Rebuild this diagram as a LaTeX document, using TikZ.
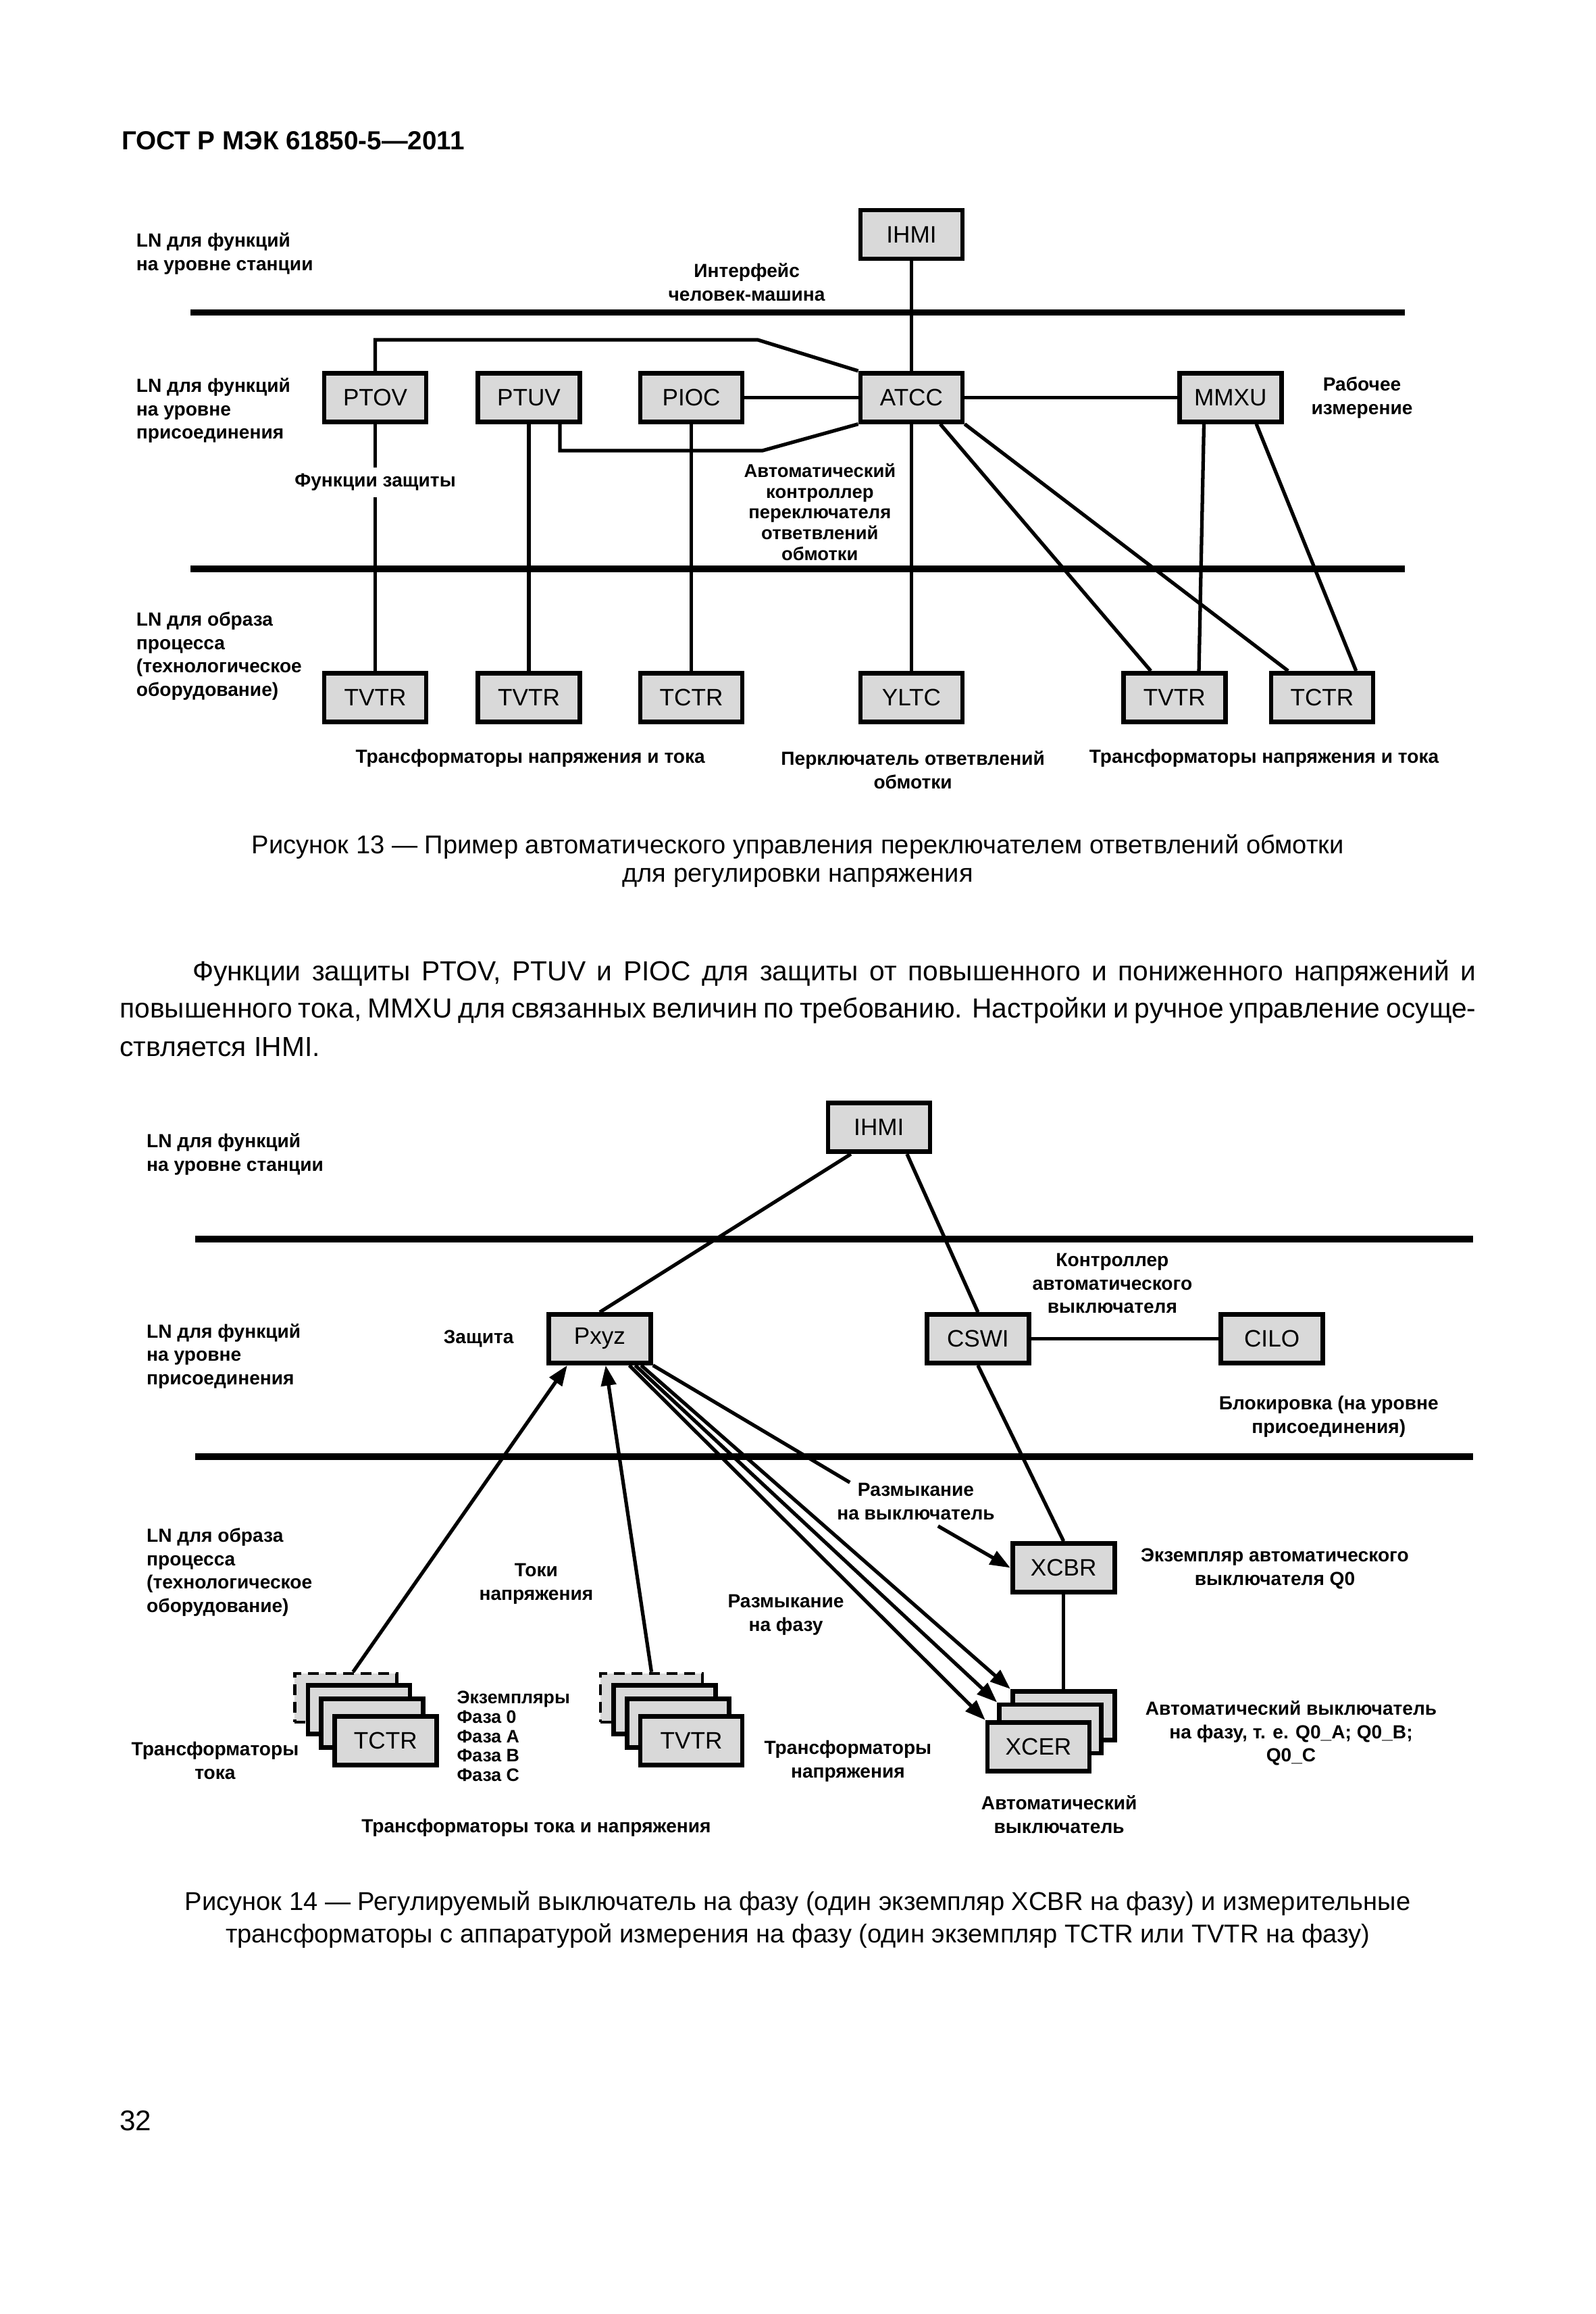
\documentclass[tikz,border=0pt]{standalone}
\usepackage{fontspec}
\setmainfont{Liberation Sans}
\usetikzlibrary{arrows.meta, calc}

\definecolor{boxgray}{gray}{0.85}

\begin{document}
\begin{tikzpicture}[x=0.2187mm, y=-0.2187mm,
    box/.style={draw, line width=1.9pt, fill=boxgray, minimum width=15.1mm,
        minimum height=7.2mm, inner sep=0pt, font=\fontsize{10}{12}\selectfont},
    dashbox/.style={box, line width=1.3pt, dash pattern=on 1.6mm off 1mm},
    lbl/.style={font=\fontsize{8}{9.9}\selectfont\bfseries, align=center, inner sep=0pt},
    lblw/.style={lbl, align=left, anchor=west},
    bus/.style={line width=2.75pt},
    wire/.style={line width=1.5pt},
    arr/.style={wire, -{Triangle[length=3mm, width=2.2mm]}},
    capt/.style={font=\fontsize{10.85}{13}\selectfont, inner sep=0pt},
    body/.style={font=\fontsize{11.6}{15}\selectfont, inner sep=0pt, anchor=west}]

    \useasboundingbox (0,0) rectangle (1080,1566);

    \node[font=\fontsize{11}{13}\selectfont\bfseries, anchor=west, inner sep=0pt] (head) at (82,95) {ГОСТ Р МЭК 61850-5—2011};

    % Figure 13: levels
    \draw[bus] (129,211.5) -- (951,211.5);
    \draw[bus] (129,385) -- (951,385);
    \node[lblw] (stA) at (92,171.6) {LN для функций\\на уровне станции};
    \node[lblw] (bayA) at (92,277.8) {LN для функций\\на уровне\\присоединения};
    \node[lblw] (procA) at (92,444) {LN для образа\\процесса\\(технологическое\\оборудование)};

    % Figure 13: logical nodes
    \node[box] (IHMIa) at (617,158.7) {IHMI};
    \node[box] (PTOV) at (254,269) {PTOV};
    \node[box] (PTUV) at (358,269) {PTUV};
    \node[box] (PIOC) at (468,269) {PIOC};
    \node[box] (ATCC) at (617,269) {ATCC};
    \node[box] (MMXU) at (833,269) {MMXU};
    \node[box] (TVTRa) at (254,472) {TVTR};
    \node[box] (TVTRb) at (358,472) {TVTR};
    \node[box] (TCTRa) at (468,472) {TCTR};
    \node[box] (YLTC) at (617,472) {YLTC};
    \node[box] (TVTRc) at (795,472) {TVTR};
    \node[box] (TCTRb) at (895,472) {TCTR};

    \node[lbl] (hmi) at (505.5,191) {Интерфейс\\человек-машина};
    \node[lbl] (meas) at (922,269) {Рабочее\\измерение};
    \node[lbl, inner ysep=0.9mm] (prot) at (254,326.5) {Функции защиты};
    \node[lbl, font=\fontsize{7.8}{8.7}\selectfont\bfseries] (atccl) at (555,346.5)
        {Автоматический\\контроллер\\переключателя\\ответвлений\\обмотки};
    \node[lbl] (trA) at (359,513) {Трансформаторы напряжения и тока};
    \node[lbl] (tapA) at (618,521) {Перключатель ответвлений\\обмотки};
    \node[lbl] (trB) at (855.7,513) {Трансформаторы напряжения и тока};

    \coordinate (bendA) at (513,230);
    \coordinate (bendB) at (516,305);

    % Connections: station and bay
    \draw[wire] (IHMIa.south) -- (ATCC.north);
    \draw[wire] (PTOV.north) |- (bendA) -- (ATCC.north west);
    \draw[wire] ($(PTUV.south)+(21,0)$) |- (bendB) -- (ATCC.south west);
    \draw[wire] (PIOC.east) -- (ATCC.west);
    \draw[wire] (ATCC.east) -- (MMXU.west);

    % Connections: bay to process
    \draw[wire] (PTOV.south) -- (prot.north);
    \draw[wire] (prot.south) -- (TVTRa.north);
    \draw[wire] (PTUV.south) -- (TVTRb.north);
    \draw[wire] (PIOC.south) -- (TCTRa.north);
    \draw[wire] (ATCC.south) -- (YLTC.north);
    \draw[wire] ($(ATCC.south)+(19.5,0)$) -- ($(TVTRc.north)+(-16,0)$);
    \draw[wire] (ATCC.south east) -- ($(TCTRb.north)+(-23,0)$);
    \draw[wire] ($(MMXU.south)+(-18,0)$) -- ($(TVTRc.north)+(16.6,0)$);
    \draw[wire] ($(MMXU.south)+(17.5,0)$) -- ($(TCTRb.north)+(23,0)$);

    \node[capt] (capA) at (540,573) {Рисунок 13 — Пример автоматического управления переключателем ответвлений обмотки};
    \node[capt] (capB) at (540,594) {для регулировки напряжения};

    % Text between the figures
    \node[body] (parA) at (130,658.5) {\makebox[190mm][s]{Функции защиты PTOV, PTUV и PIOC для защиты от повышенного и пониженного напряжений и}};
    \node[body] (parB) at (80.8,683.6) {\makebox[200.8mm][s]{повышенного тока, MMXU для связанных величин по требованию. Настройки и ручное управление осуще-}};
    \node[body] (parC) at (80.8,708.7) {ствляется IHMI.};

    % Figure 14: levels
    \draw[bus] (132,838.6) -- (997,838.6);
    \draw[bus] (132,985.7) -- (997,985.7);
    \node[lblw] (stB) at (99,781) {LN для функций\\на уровне станции};
    \node[lblw] (bayB) at (99,917.8) {LN для функций\\на уровне\\присоединения};
    \node[lblw] (procB) at (99,1064) {LN для образа\\процесса\\(технологическое\\оборудование)};

    % Figure 14: logical nodes
    \node[box] (IHMIb) at (595,763) {IHMI};
    \node[box] (Pxyz) at (406,906) {Pxyz};
    \node[box] (CSWI) at (662,906) {CSWI};
    \node[box] (CILO) at (861,906) {CILO};
    \node[box] (XCBR) at (720,1061) {XCBR};

    % instance stacks
    \node[dashbox] (tcback) at (234,1149) {};
    \node[box] (tcmid) at (243,1157) {};
    \node[box] (tcfront) at (252,1166) {};
    \node[box] (TCTRc) at (261,1178) {TCTR};
    \node[dashbox] (tvback) at (441,1149) {};
    \node[box] (tvmid) at (450,1157) {};
    \node[box] (tvfront) at (459,1166) {};
    \node[box] (TVTRd) at (468,1178) {TVTR};
    \node[box] (xcback) at (720,1161) {};
    \node[box] (xcmid) at (711,1170) {};
    \node[box] (XCER) at (703,1182) {XCER};

    \node[lbl] (ctrl) at (753,868.5) {Контроллер\\автоматического\\выключателя};
    \node[lbl] (prtB) at (324,906) {Защита};
    \node[lbl] (ilock) at (899.5,958.5) {Блокировка (на уровне\\присоединения)};
    \node[lbl] (opencb) at (620,1016) {Размыкание\\на выключатель};
    \node[lbl] (cbinst) at (863,1061.5) {Экземпляр автоматического\\выключателя Q0};
    \node[lbl] (meas2) at (363,1072) {Токи\\напряжения};
    \node[lbl] (openph) at (532,1093) {Размыкание\\на фазу};
    \node[lbl] (trC) at (145.6,1191.4) {Трансформаторы\\тока};
    \node[lbl, align=left, anchor=west, font=\fontsize{7.6}{8.2}\selectfont\bfseries] (inst) at (309,1175)
        {Экземпляры\\Фаза 0\\Фаза A\\Фаза B\\Фаза C};
    \node[lbl] (trD) at (574,1192) {Трансформаторы\\напряжения};
    \node[lbl] (cbph) at (874,1173) {Автоматический выключатель\\на фазу, т. е. Q0\_A; Q0\_B;\\Q0\_C};
    \node[lbl] (cbB) at (717,1228) {Автоматический\\выключатель};
    \node[lbl] (trE) at (363,1237) {Трансформаторы тока и напряжения};

    % Connections: figure 14
    \draw[wire] ($(IHMIb.south)+(-19,0)$) -- (Pxyz.north);
    \draw[wire] ($(IHMIb.south)+(19,0)$) -- (CSWI.north);
    \draw[wire] (CSWI.east) -- (CILO.west);
    \draw[wire] (CSWI.south) -- (XCBR.north);
    \draw[wire] (XCBR.south) -- (xcback.north);
    \draw[wire] (Pxyz.south east) -- ($(opencb.north west)+(9,0)$);
    \draw[arr] ($(opencb.south)+(15,4)$) -- (XCBR.west);
    \draw[arr] ($(tcback.north)+(5,0)$) -- ($(Pxyz.south)+(-22,0)$);
    \draw[arr] (tvback.north) -- ($(Pxyz.south)+(4,0)$);
    \draw[arr] ($(Pxyz.south)+(20,0)$) -- (XCER.north west);
    \draw[arr] ($(Pxyz.south)+(24,0)$) -- (xcmid.north west);
    \draw[arr] ($(Pxyz.south)+(28,0)$) -- (xcback.north west);

    \node[capt] (capC) at (540,1288) {Рисунок 14 — Регулируемый выключатель на фазу (один экземпляр XCBR на фазу) и измерительные};
    \node[capt] (capD) at (540,1310) {трансформаторы с аппаратурой измерения на фазу (один экземпляр TCTR или TVTR на фазу)};

    \node[font=\fontsize{12}{14}\selectfont, anchor=west, inner sep=0pt] (page) at (80.8,1435) {32};
\end{tikzpicture}
\end{document}
